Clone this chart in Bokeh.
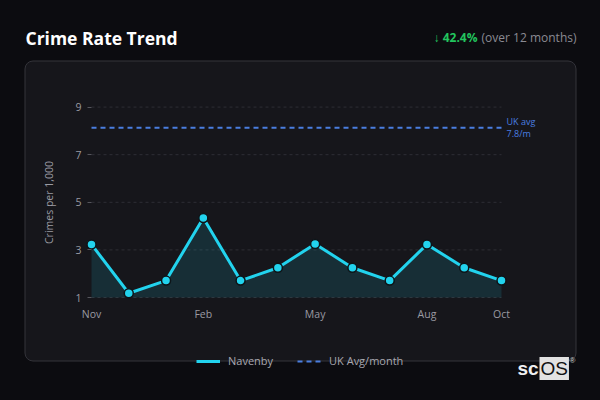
from bokeh.plotting import figure
from bokeh.models import (Range1d, FixedTicker, Label, BoxAnnotation, Legend, LegendItem)
from bokeh.embed import file_html
from bokeh.resources import INLINE

# ---- data ----
months = ["Nov", "Dec", "Jan", "Feb", "Mar", "Apr", "May", "Jun", "Jul", "Aug", "Sep", "Oct"]
navenby = [3.23, 1.18, 1.71, 4.34, 1.71, 2.25, 3.25, 2.25, 1.71, 3.23, 2.25, 1.71]
uk_avg = 8.13
uk_avg_label = "7.8/m"
tick_idx = [0, 3, 6, 9, 11]
y_ticks = [1, 3, 5, 7, 9]
change_text = "\u2193 42.4%"
change_note = "(over 12 months)"

FONT = "Open Sans"
PAGE_BG = "#0c0c10"
CARD_BG = "#16161b"
CYAN = "#22d3ee"
BLUE = "#4a7ee0"
GREY = "#9a9aa2"

W, H = 584, 384
# plot area in canvas pixels
PX_LEFT, PX_RIGHT = 91, 501
PX_Y1, PX_PER_UNIT = 297, 23.8

x = list(range(len(months)))
n = len(months) - 1
sx = (PX_RIGHT - PX_LEFT) / n
x_start = -PX_LEFT / sx
x_end = x_start + W / sx
y_end = 1 + PX_Y1 / PX_PER_UNIT
y_start = 1 - (H - PX_Y1) / PX_PER_UNIT

p = figure(width=W, height=H, output_backend="svg", toolbar_location=None,
           x_range=Range1d(x_start, x_end), y_range=Range1d(y_start, y_end), min_border=0)
p.min_border_left = p.min_border_right = p.min_border_top = p.min_border_bottom = 0
p.background_fill_color = PAGE_BG
p.border_fill_color = PAGE_BG
p.outline_line_color = None

# card
card = BoxAnnotation(left=24.5, right=575.5, top=H - 60.5, bottom=H - 360.5,
                     left_units="screen", right_units="screen", top_units="screen", bottom_units="screen",
                     fill_color=CARD_BG, fill_alpha=1, line_color="#34343a", line_alpha=1, line_width=1,
                     border_radius=8, level="image")
p.add_layout(card)

# grid lines (at the y ticks, spanning the plotted months)
p.segment(x0=[x[0]] * len(y_ticks), x1=[x[-1]] * len(y_ticks), y0=y_ticks, y1=y_ticks,
          line_color="#2e2e35", line_width=1, line_dash="3 3")

# area + line + markers
p.varea(x=x, y1=[1] * len(x), y2=navenby, fill_color=CYAN, fill_alpha=0.13)
r_uk = p.line(x, [uk_avg] * len(x), line_color=BLUE, line_width=2, line_dash="5 4")
r_nav = p.line(x, navenby, line_color=CYAN, line_width=3)
p.scatter(x, navenby, size=9, fill_color=CYAN, line_color="#0e1418", line_width=1.5)

# axes
p.xgrid.visible = False
p.ygrid.visible = False

p.xaxis.fixed_location = 1
p.xaxis.bounds = (x[0], x[-1])
p.xaxis.ticker = FixedTicker(ticks=tick_idx)
p.xaxis.major_label_overrides = {i: months[i] for i in tick_idx}
p.xaxis.axis_line_color = None
p.xaxis.major_tick_line_color = None
p.xaxis.minor_tick_line_color = None
p.xaxis.major_tick_out = 0
p.xaxis.major_label_standoff = 9
p.xaxis.major_label_text_color = GREY
p.xaxis.major_label_text_font = FONT
p.xaxis.major_label_text_font_size = "10.5px"

p.yaxis.fixed_location = 0
p.yaxis.bounds = (y_ticks[0], y_ticks[-1])
p.yaxis.ticker = FixedTicker(ticks=y_ticks)
p.yaxis.axis_line_color = None
p.yaxis.minor_tick_line_color = None
p.yaxis.major_tick_line_color = "#55555c"
p.yaxis.major_tick_out = 4
p.yaxis.major_tick_in = 0
p.yaxis.major_label_standoff = 6
p.yaxis.major_label_text_color = GREY
p.yaxis.major_label_text_font = FONT
p.yaxis.major_label_text_font_size = "10.5px"
p.yaxis.axis_label = "Crimes per 1,000"
p.yaxis.axis_label_text_color = GREY
p.yaxis.axis_label_text_font = FONT
p.yaxis.axis_label_text_font_style = "normal"
p.yaxis.axis_label_text_font_size = "10.5px"
p.yaxis.axis_label_standoff = 16

# texts
def lab(x_, y_, text, **kw):
    p.add_layout(Label(x=x_, y=H - y_, x_units="screen", y_units="screen", text=text,
                       text_baseline="middle", **kw))

lab(25, 37, "Crime Rate Trend", text_color="#ffffff", text_font=FONT,
    text_font_style="bold", text_font_size="17.5px")
lab(576, 37, change_note, text_color="#8a8a92", text_font=FONT,
    text_font_size="12px", text_align="right")
lab(477, 37, change_text, text_color="#22c55e", text_font=FONT, text_font_style="bold",
    text_font_size="12px", text_align="right")
lab(506, 121, "UK avg", text_color=BLUE, text_font=FONT, text_font_size="9px")
lab(506, 133, uk_avg_label, text_color=BLUE, text_font=FONT, text_font_size="9px")

# logo
lab(517, 368, "sc", text_color="#f0f0f0", text_font="Liberation Sans",
    text_font_style="bold", text_font_size="19px")
lab(539, 368, "OS", text_color="#111111", text_font="Liberation Sans",
    text_font_size="19px", background_fill_color="#e2e2e2", padding=1)
lab(569, 360, "\u00ae", text_color="#cccccc", text_font="Liberation Sans", text_font_size="8px")

# legend
legend = Legend(items=[LegendItem(label="Navenby", renderers=[r_nav]),
                       LegendItem(label="UK Avg/month", renderers=[r_uk])],
                location=(196, H - 368), orientation="horizontal",
                background_fill_alpha=0, border_line_color=None,
                padding=0, margin=0, spacing=24, label_standoff=8,
                glyph_width=24, glyph_height=12, label_height=12,
                label_text_color="#a8a8b0", label_text_font=FONT, label_text_font_size="11px")
p.add_layout(legend)

html = file_html(p, INLINE)
html = html.replace("<head>", "<head><style>html,body{background:%s;}</style>" % PAGE_BG, 1)
open("out.html", "w").write(html)
